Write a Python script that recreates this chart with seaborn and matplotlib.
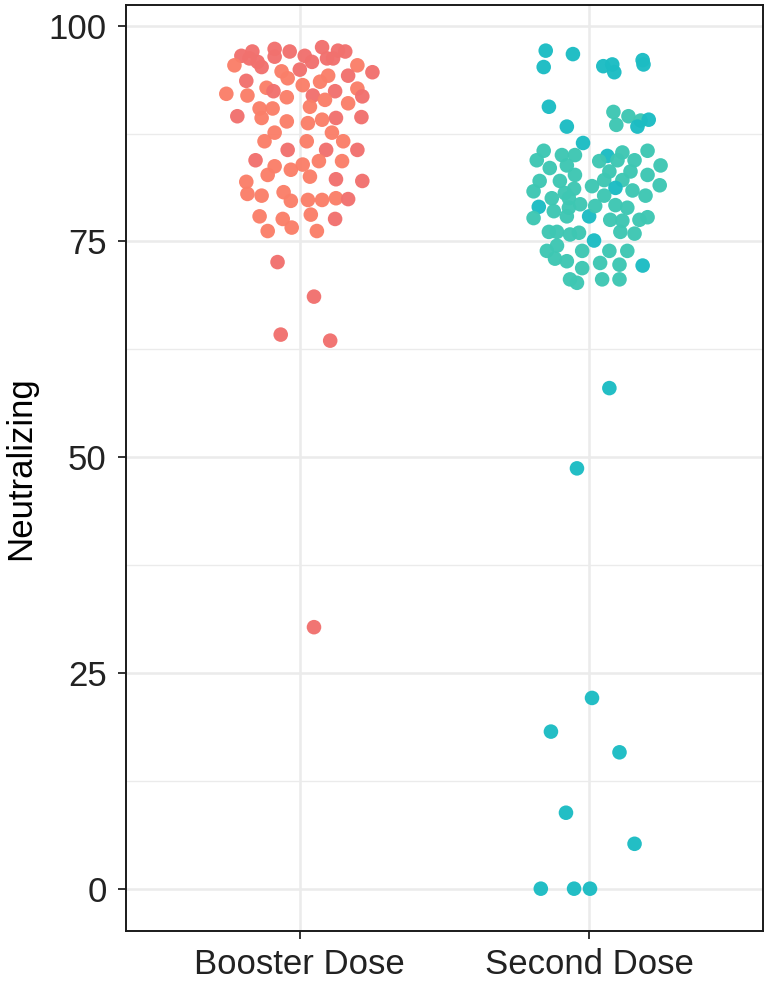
import pandas as pd
import numpy as np
import matplotlib
matplotlib.use("Agg")
import matplotlib.pyplot as plt
import seaborn as sns

# categories
doses = ["Booster Dose", "Second Dose"]

# Booster Dose: neutralizing values, horizontal jitter, tone (D darker / L lighter)
booster_value = [96.5, 97.0, 95.8, 95.4, 96.2, 95.2, 97.3, 96.4, 97.0, 94.7,
                 93.9, 93.6, 92.1, 91.9, 92.8, 92.4, 91.7, 90.4, 90.4, 94.9,
                 96.5, 95.8, 97.5, 96.2, 97.1, 97.0, 96.2, 95.4, 94.2, 94.6,
                 94.2, 93.5, 92.4, 92.7, 91.8, 91.0, 91.9, 91.4, 90.6, 93.1,
                 89.5, 89.3, 88.9, 88.7, 89.1, 89.3, 89.4, 87.6, 86.6, 86.6,
                 87.6, 86.6, 85.6, 85.6, 85.6, 84.4, 83.7, 82.7, 83.3, 83.9,
                 84.3, 84.3, 82.5, 82.2, 82.0, 81.9, 80.5, 80.3, 80.7, 79.7,
                 79.8, 79.8, 80.0, 79.9, 77.9, 77.6, 78.1, 77.6, 76.2, 76.6,
                 76.2, 72.6, 68.6, 64.2, 63.5, 30.3]
booster_jitter = [-0.202, -0.164, -0.146, -0.226, -0.174, -0.132, -0.087, -0.087, -0.035, -0.063,
                  -0.042, -0.185, -0.254, -0.181, -0.115, -0.091, -0.045, -0.139, -0.094, 0.000,
                  0.017, 0.042, 0.077, 0.094, 0.132, 0.157, 0.115, 0.199, 0.167, 0.251,
                  0.098, 0.070, 0.122, 0.199, 0.216, 0.167, 0.045, 0.087, 0.035, 0.010,
                  -0.216, -0.132, -0.045, 0.028, 0.077, 0.125, 0.213, -0.087, -0.122, 0.024,
                  0.111, 0.150, -0.042, 0.091, 0.199, -0.153, -0.087, -0.111, -0.031, 0.010,
                  0.066, 0.146, 0.035, 0.125, 0.216, -0.185, -0.181, -0.132, -0.056, -0.031,
                  0.028, 0.077, 0.125, 0.167, -0.139, -0.059, 0.038, 0.122, -0.111, -0.028,
                  0.059, -0.077, 0.049, -0.066, 0.105, 0.049]
booster_tone = list("DDDLDDDDDL" "LDLLLDLLLD" "DDDDDDDLDD" "LLDLDLDLLL"
                    "DLLLLDDLLL" "LLDDDDLLLL" "LLLDDLLLLL" "LLLDLLLDLL" "LDDDDD")

# Second Dose
second_value = [97.1, 95.2, 96.7, 95.3, 95.5, 94.6, 96.0, 95.5, 90.6, 88.3,
                90.0, 88.5, 89.5, 89.0, 89.1, 88.3, 86.4, 85.5, 84.4, 85.0,
                85.0, 83.5, 83.8, 82.7, 82.0, 82.0, 80.8, 81.1, 80.6, 80.0,
                81.4, 79.0, 80.0, 79.3, 78.5, 78.9, 77.7, 77.9, 77.9, 76.1,
                76.1, 75.8, 76.0, 75.1, 73.9, 74.5, 73.0, 72.7, 73.9, 71.9,
                70.6, 70.2, 85.5, 84.9, 84.3, 85.3, 84.4, 84.4, 83.8, 83.1,
                83.1, 82.7, 82.1, 82.1, 81.2, 80.9, 81.5, 80.3, 79.1, 79.2,
                78.9, 80.3, 77.5, 77.4, 77.5, 77.8, 76.1, 75.9, 73.9, 73.9,
                72.5, 72.3, 72.2, 70.6, 70.6, 58.0, 48.7, 22.1, 18.2, 15.8,
                8.8, 5.2, 0.0, 0.0, 0.0]
second_jitter = [-0.150, -0.157, -0.056, 0.049, 0.080, 0.087, 0.185, 0.188, -0.139, -0.077,
                 0.084, 0.094, 0.136, 0.178, 0.206, 0.167, -0.021, -0.157, -0.181, -0.094,
                 -0.049, -0.136, -0.077, -0.049, -0.171, -0.101, -0.192, -0.052, -0.084, -0.129,
                 0.010, -0.174, -0.070, -0.031, -0.122, -0.070, -0.192, -0.077, 0.000, -0.139,
                 -0.111, -0.066, -0.035, 0.017, -0.146, -0.111, -0.118, -0.077, -0.024, -0.024,
                 -0.066, -0.042, 0.202, 0.063, 0.035, 0.115, 0.098, 0.157, 0.247, 0.070,
                 0.143, 0.202, 0.052, 0.115, 0.091, 0.150, 0.244, 0.052, 0.021, 0.091,
                 0.132, 0.195, 0.073, 0.115, 0.174, 0.202, 0.108, 0.157, 0.070, 0.132,
                 0.038, 0.105, 0.185, 0.045, 0.105, 0.070, -0.042, 0.010, -0.132, 0.105,
                 -0.080, 0.157, -0.167, -0.052, 0.003]
second_tone = list("DDDDDDDDDD" "LLLLDDDLLL" "LLLLLLLLLL" "LDLLLLLLDL"
                   "LLLDLLLLLL" "LLLDLLLLLL" "LLLLDLLLLL" "LLLLLLLLLL"
                   "LLDLLDDDDD" "DDDDD")

df = pd.concat([
    pd.DataFrame({"Dose": doses[0], "x": 0 + np.array(booster_jitter),
                  "Neutralizing": booster_value, "tone": booster_tone}),
    pd.DataFrame({"Dose": doses[1], "x": 1 + np.array(second_jitter),
                  "Neutralizing": second_value, "tone": second_tone}),
], ignore_index=True)
df["group"] = df["Dose"] + " " + df["tone"]

palette = {
    "Booster Dose D": "#F1716E",
    "Booster Dose L": "#FA7F69",
    "Second Dose D": "#1CBCC3",
    "Second Dose L": "#3EC7B3",
}

sns.set_theme(style="white")
plt.rcParams["font.family"] = ["Liberation Sans", "DejaVu Sans"]

fig = plt.figure(figsize=(7.65, 9.81), dpi=100)
ax = fig.add_axes([0.165, 0.051, 0.832, 0.944])

sns.scatterplot(data=df, x="x", y="Neutralizing", hue="group", palette=palette,
                s=110, linewidth=0, alpha=0.97, legend=False, ax=ax, zorder=3)

ax.set_xlim(-0.6, 1.6)
ax.set_ylim(-4.9, 102.4)
ax.set_xticks([0, 1])
ax.set_xticklabels(doses)
ax.set_yticks([0, 25, 50, 75, 100])
ax.set_yticks([12.5, 37.5, 62.5, 87.5], minor=True)
ax.set_xlabel("")
ax.set_ylabel("Neutralizing", fontsize=25, color="black", labelpad=8)

ax.grid(True, which="major", color="#EBEBEB", linewidth=1.8, zorder=0)
ax.grid(True, which="minor", axis="y", color="#EBEBEB", linewidth=1.0, zorder=0)
ax.set_axisbelow(True)

for sp in ax.spines.values():
    sp.set_color("#1a1a1a")
    sp.set_linewidth(1.4)

ax.tick_params(axis="both", which="major", labelsize=25, labelcolor="#222222",
               length=6, width=1.4, color="#333333", pad=8, left=True, bottom=True)
ax.tick_params(axis="x", which="major", pad=6)
ax.tick_params(axis="both", which="minor", length=0)

plt.savefig("out.png", dpi=100)
